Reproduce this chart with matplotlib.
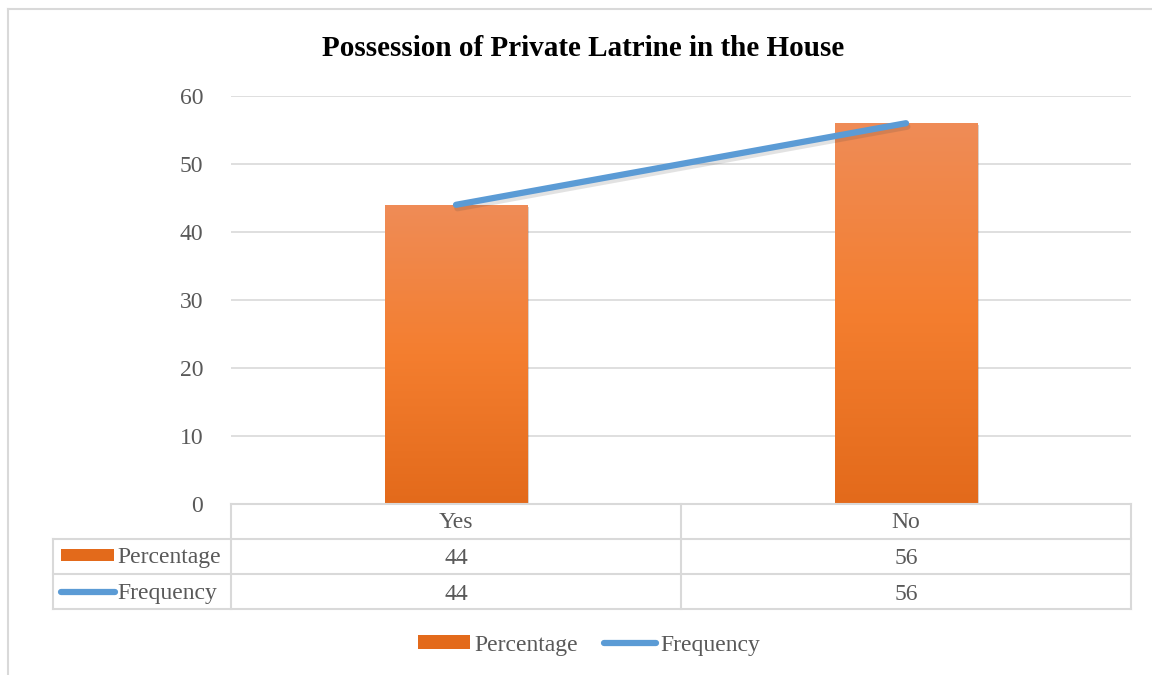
import numpy as np
import matplotlib.pyplot as plt
import matplotlib.patheffects as pe
from matplotlib.colors import LinearSegmentedColormap
from matplotlib.lines import Line2D
from matplotlib.patches import Rectangle

plt.rcParams['font.family'] = ['Liberation Serif', 'DejaVu Serif']

categories = ['Yes', 'No']
percentage = [44, 56]
frequency = [44, 56]
series_names = ['Percentage', 'Frequency']

W, H = 1152, 675
grid_col = '#d9d9d9'
text_col = '#595959'
bar_top = '#ef8c57'
bar_bottom = '#e36a1b'
line_col = '#5b9bd5'

fig = plt.figure(figsize=(W / 100, H / 100), dpi=100)

def fx(px):
    return px / W

def fy(py):
    return 1 - py / H

# chart area border
fig.add_artist(Line2D([fx(8), fx(8)], [fy(9), fy(675)], color=grid_col, lw=1.5))
fig.add_artist(Line2D([fx(8), 1], [fy(9), fy(9)], color=grid_col, lw=1.5))

ax = fig.add_axes([fx(231), fy(504), fx(1131) - fx(231), fy(96) - fy(504)])
x = np.arange(len(categories))
ax.set_yticks(range(0, 61, 10))
ax.tick_params(axis='y', length=0, pad=20, labelsize=17, labelcolor=text_col)
ax.set_xticks([])
ax.grid(axis='y', color=grid_col, lw=1.2)
ax.set_axisbelow(True)
for s in ax.spines.values():
    s.set_visible(False)

# gradient filled bars
cmap = LinearSegmentedColormap.from_list('bar', [bar_bottom, '#f47e2f', bar_top])
grad = np.linspace(0, 1, 256).reshape(-1, 1)
bars = ax.bar(x, percentage, width=0.316, color=bar_bottom, zorder=2,
              path_effects=[pe.SimplePatchShadow(offset=(1.5, -1.5), alpha=0.2), pe.Normal()])
for b in bars:
    im = ax.imshow(grad, cmap=cmap, origin='lower', aspect='auto', zorder=2.5,
                   extent=[b.get_x(), b.get_x() + b.get_width(), 0, b.get_height()])
    im.set_clip_path(b)

ax.plot(x, frequency, color=line_col, lw=4.5, solid_capstyle='round', zorder=3,
        path_effects=[pe.SimpleLineShadow(offset=(1, -2.5), alpha=0.15, shadow_color='#404040'),
                      pe.Normal()])
ax.set_xlim(-0.5, len(categories) - 0.5)
ax.set_ylim(0, 60)

fig.text(fx(583), fy(48), 'Possession of Private Latrine in the House',
         ha='center', va='center', fontsize=21, fontweight='bold')

# data table under the axis
cols = [231, 681, 1131]
rows = [504, 539, 574, 609]
for c in cols:
    fig.add_artist(Line2D([fx(c), fx(c)], [fy(504), fy(609)], color=grid_col, lw=1.5))
fig.add_artist(Line2D([fx(53), fx(53)], [fy(539), fy(609)], color=grid_col, lw=1.5))
fig.add_artist(Line2D([fx(231), fx(1131)], [fy(504), fy(504)], color=grid_col, lw=1.5))
for r in rows[1:]:
    fig.add_artist(Line2D([fx(53), fx(1131)], [fy(r), fy(r)], color=grid_col, lw=1.5))

tsize = 17
for i, cat in enumerate(categories):
    cx = (cols[i] + cols[i + 1]) / 2
    fig.text(fx(cx), fy(523), cat, ha='center', va='center', fontsize=tsize, color=text_col)
    fig.text(fx(cx), fy(559), str(percentage[i]), ha='center', va='center', fontsize=tsize, color=text_col)
    fig.text(fx(cx), fy(594), str(frequency[i]), ha='center', va='center', fontsize=tsize, color=text_col)

fig.add_artist(Rectangle((fx(61), fy(561)), fx(114) - fx(61), fy(549) - fy(561),
                         color=bar_bottom, lw=0))
fig.add_artist(Line2D([fx(61), fx(115)], [fy(592), fy(592)], color=line_col, lw=4.5,
                      solid_capstyle='round'))
fig.text(fx(117), fy(558), series_names[0], ha='left', va='center', fontsize=tsize, color=text_col)
fig.text(fx(117), fy(593), series_names[1], ha='left', va='center', fontsize=tsize, color=text_col)

# legend
handles = [Rectangle((0, 0), 1, 1, color=bar_bottom, lw=0),
           Line2D([0], [0], color=line_col, lw=4.5, solid_capstyle='round')]
fig.legend(handles, series_names, loc='center', bbox_to_anchor=(fx(589), fy(645)),
           ncol=2, frameon=False, fontsize=tsize, handlelength=2.2, handleheight=0.5,
           handletextpad=0.2, columnspacing=1.1, labelcolor=text_col)

fig.savefig('out.png', dpi=100)
